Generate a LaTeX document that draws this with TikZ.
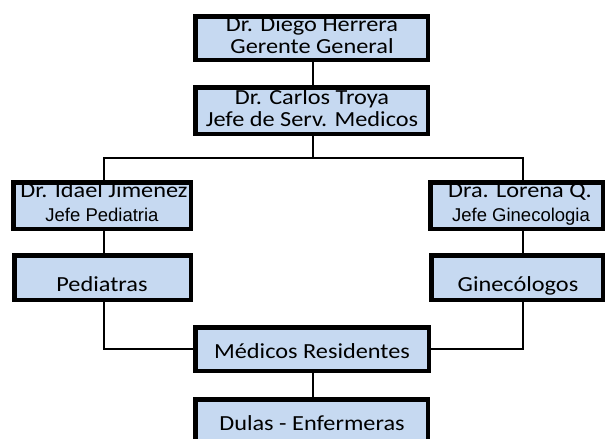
\documentclass[tikz,border=0pt]{standalone}
\usepackage{fontspec}
\setmainfont{Carlito}[FakeStretch=1.13]
\newfontfamily\arialf{Liberation Sans}
\definecolor{boxfill}{RGB}{198,217,241}
\begin{document}
\begin{tikzpicture}[x=1pt,y=-1pt,
  orgbox/.style={draw=black,line width=4.5pt,fill=boxfill,rectangle,inner sep=0pt},
  link/.style={draw=black,line width=2pt},
  txt/.style={anchor=base,inner sep=0pt,font=\fontsize{21.5}{24}\selectfont},
  txtsub/.style={anchor=base,inner sep=0pt,font=\arialf\fontsize{18.5}{20}\selectfont}]
\useasboundingbox (0,0) rectangle (606,439);
\clip (0,0) rectangle (606,439);
% box outlines are given by their outer edges; the path sits half a line width inside
\newcommand{\orgnode}[5]{%
  \node[orgbox,minimum width={#4-#2-4.5pt},minimum height={#5-#3-4.5pt}]
    (#1) at ({(#2+#4)/2},{(#3+#5)/2}) {};}
% connector guide positions
\coordinate (bar) at (313,158);
\coordinate (lx) at (104,0);
\coordinate (rx) at (523,0);
% boxes
\orgnode{d}{193}{14}{430}{62}
\orgnode{c}{193}{85}{430}{136}
\orgnode{i}{11}{180}{193}{231}
\orgnode{p}{12}{253}{193}{302}
\orgnode{l}{428}{180}{605}{231}
\orgnode{g}{429}{253}{605}{302}
\orgnode{m}{193}{325}{431}{373}
\orgnode{du}{193}{397}{430}{452}
% connectors
\draw[link] (d.south -| bar) -- (c.north -| bar);
\draw[link] (c.south -| bar) -- (bar);
\draw[link] (i.north -| lx) |- (bar) -| (l.north -| rx);
\draw[link] (i.south -| lx) -- (p.north -| lx);
\draw[link] (l.south -| rx) -- (g.north -| rx);
\draw[link] (p.south -| lx) |- (m.west);
\draw[link] (g.south -| rx) |- (m.east);
\draw[link] (m.south -| bar) -- (du.north -| bar);
% texts
\node[txt] (d1) at (312,31) {Dr. Diego Herrera};
\node[txt] (d2) at (312,53) {Gerente General};
\node[txt] (c1) at (312,104) {Dr. Carlos Troya};
\node[txt] (c2) at (312,126.5) {Jefe de Serv. Medicos};
\node[txt] (i1) at (104,197.5) {Dr. Idael Jimenez};
\node[txtsub] (i2) at (102,221.5) {Jefe Pediatria};
\node[txt] (p1) at (102,291) {Pediatras};
\node[txt] (l1) at (520,197.5) {Dra. Lorena Q.};
\node[txtsub] (l2) at (521,221.5) {Jefe Ginecologia};
\node[txt] (g1) at (518,291) {Ginecólogos};
\node[txt] (m1) at (312,358) {Médicos Residentes};
\node[txt] (du1) at (312,430) {Dulas - Enfermeras};
% borders redrawn over the texts
\foreach \b in {d,c,i,p,l,g,m,du}
  \draw[black,line width=4.5pt] (\b.south west) ++(2.25,-2.25) rectangle ([shift={(-2.25,2.25)}]\b.north east);
\end{tikzpicture}
\end{document}
